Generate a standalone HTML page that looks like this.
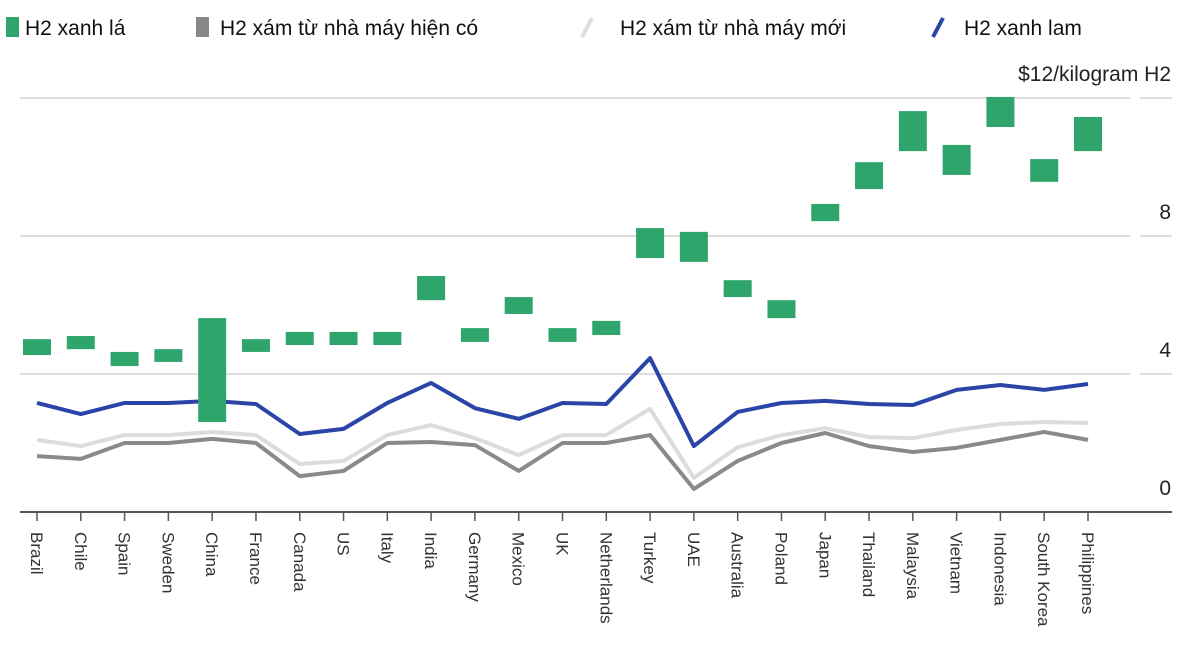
<!DOCTYPE html>
<html><head><meta charset="utf-8"><style>
body{margin:0;background:#fff;width:1200px;height:657px;overflow:hidden;font-family:"Liberation Sans",sans-serif}
svg text{font-family:"Liberation Sans",sans-serif}
</style></head><body>
<svg id="chart" width="1200" height="657" xmlns="http://www.w3.org/2000/svg">
<g>
<rect x="6" y="17" width="13" height="20" fill="#2ea56b"/>
<text x="25" y="35" font-size="21" fill="#111">H2 xanh lá</text>
<rect x="196" y="17" width="13" height="20" fill="#888"/>
<text x="220" y="35" font-size="21" fill="#111">H2 xám từ nhà máy hiện có</text>
<line x1="582" y1="37" x2="592" y2="18" stroke="#ddd" stroke-width="4"/>
<text x="620" y="35" font-size="21" fill="#111">H2 xám từ nhà máy mới</text>
<line x1="933" y1="37" x2="943" y2="18" stroke="#2a44a8" stroke-width="4"/>
<text x="964" y="35" font-size="21" fill="#111">H2 xanh lam</text>
</g>
<g id="grid"></g><g id="marks"></g>
</svg>
<script>
const categories=["Brazil","Chile","Spain","Sweden","China","France","Canada","US","Italy","India","Germany","Mexico","UK","Netherlands","Turkey","UAE","Australia","Poland","Japan","Thailand","Malaysia","Vietnam","Indonesia","South Korea","Philippines"];
const greenHigh=[5.01,5.1,4.64,4.72,5.62,5.01,5.22,5.22,5.22,6.84,5.33,6.23,5.33,5.54,8.23,8.12,6.72,6.14,8.93,10.14,11.62,10.64,12.03,10.23,11.45];
const greenLow=[4.55,4.72,4.23,4.35,2.61,4.64,4.84,4.84,4.84,6.14,4.93,5.74,4.93,5.13,7.36,7.25,6.23,5.62,8.43,9.36,10.46,9.77,11.16,9.57,10.46];
const blueH2=[3.16,2.84,3.16,3.16,3.22,3.13,2.26,2.41,3.16,3.74,3.01,2.7,3.16,3.13,4.46,1.91,2.9,3.16,3.22,3.13,3.1,3.54,3.68,3.54,3.71];
const greyNew=[2.09,1.91,2.23,2.23,2.32,2.23,1.39,1.48,2.23,2.52,2.14,1.65,2.23,2.23,2.99,0.99,1.88,2.23,2.43,2.17,2.14,2.38,2.55,2.61,2.58];
const greyExisting=[1.62,1.54,2.0,2.0,2.12,2.0,1.04,1.19,2.0,2.03,1.94,1.19,2.0,2.0,2.23,0.67,1.48,2.0,2.29,1.91,1.74,1.86,2.09,2.32,2.09];
const yTicks=[0,4,8,12];
const yTickLabels=["0","4","8","$12/kilogram H2"];
const NS="http://www.w3.org/2000/svg";
const x=i=>37+i*(1088-37)/(categories.length-1);
const y=v=>512-v*34.5;
const grid=document.getElementById('grid'),marks=document.getElementById('marks');
function mk(p,tag,attrs){const e=document.createElementNS(NS,tag);for(const k in attrs)e.setAttribute(k,attrs[k]);p.appendChild(e);return e;}
yTicks.forEach((t,i)=>{
 if(t>0){const g=mk(grid,'line',{x1:20,x2:1130,y1:y(t),y2:y(t),stroke:'#ddd','stroke-width':2});
 
 
 const g2=mk(grid,'line',{x1:1140,x2:1172,y1:y(t),y2:y(t),stroke:'#ddd','stroke-width':2});
 
 }
 const tx=mk(grid,'text',{x:1171,y:y(t)-17,'font-size':21,fill:'#222','text-anchor':'end'});
 tx.textContent=yTickLabels[i];
 
 
});
const base=mk(grid,'line',{x1:20,x2:1172,y1:y(0),y2:y(0),stroke:'#555','stroke-width':2});


categories.forEach((c,i)=>{
 const tk=mk(grid,'line',{x1:x(i),x2:x(i),y1:y(0),y2:y(0)+9,stroke:'#555','stroke-width':1.5});
 
 
 const t=mk(grid,'text',{x:0,y:0,'font-size':17,fill:'#333',transform:`translate(${x(i)-6},${y(0)+20}) rotate(90)`});
 t.textContent=c;
 
 
});
function line(arr,color,w,name){
 const p=mk(marks,'polyline',{points:arr.map((v,i)=>x(i)+','+y(v)).join(' '),fill:'none',stroke:color,'stroke-width':w,'stroke-linejoin':'round'});
 
 
}
line(greyNew,'#dcdcdc',4,'line-grey-new');
line(greyExisting,'#8a8a8a',4,'line-grey-existing');
line(blueH2,'#2a44a8',4,'line-blue-h2');
categories.forEach((c,i)=>{
 const r=mk(marks,'rect',{x:x(i)-14,y:y(greenHigh[i]),width:28,height:y(greenLow[i])-y(greenHigh[i]),fill:'#2ea56b'});
 
 
});
</script>
</body></html>
